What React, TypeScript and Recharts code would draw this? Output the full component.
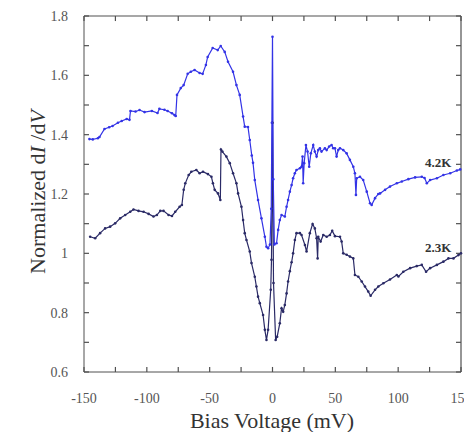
import React from 'react';
import { LineChart, Line, XAxis, YAxis, ReferenceDot } from 'recharts';

// 4.2K curve: bias (mV) and normalized conductance
const bias42 = [
  -145.7, -143, -139, -137.7, -133.7, -130, -127.3, -123, -120, -116, -113.8, -113, -109, -105.8, -101.8, -96,
  -91.5, -90, -86, -83.5, -80, -78, -77, -76, -73, -70.7, -67.5, -65, -62, -58, -55.6, -53, -51.6, -47.6,
  -43.6, -41.2, -38, -35.4, -31.4, -28.7, -26.1, -23.4, -22.1, -19.5, -18.1, -16.5, -15.5, -14.1, -11.5,
  -8.8, -6.1, -4.8, -3.5, -2, -1, -0.5, 0, 0.6, 1.5, 3.2, 4.5, 5.8, 7.2, 9.8, 11.2, 12.4, 13.8, 15.2, 16.4,
  17.8, 19.1, 21.8, 23.1, 23.9, 24.4, 25.2, 26.6, 27.9, 29.2, 30.5, 32.4, 33.7, 35.1, 36.4, 37.7, 39, 41.7,
  43.1, 45.1, 47, 48.3, 49.7, 51, 52.3, 53.7, 56.3, 59, 61.6, 64.3, 65.6, 66.4, 67, 69.6, 72.2, 75, 77.6,
  78.9, 81.6, 84.2, 85.6, 89.6, 93.5, 98.9, 102.9, 108.1, 113.5, 118.8, 121, 122.8, 125.4, 130.8, 136,
  141.4, 146.7, 149.4,
];
const g42 = [
  1.385, 1.384, 1.388, 1.392, 1.419, 1.425, 1.429, 1.44, 1.446, 1.453, 1.45, 1.48, 1.478, 1.483, 1.476, 1.48,
  1.473, 1.487, 1.484, 1.48, 1.472, 1.466, 1.463, 1.534, 1.557, 1.567, 1.605, 1.612, 1.618, 1.608, 1.605,
  1.635, 1.662, 1.692, 1.685, 1.699, 1.679, 1.646, 1.612, 1.567, 1.534, 1.461, 1.427, 1.426, 1.382, 1.33,
  1.305, 1.247, 1.18, 1.118, 1.056, 1.022, 1.017, 1.03, 1.15, 1.44, 1.73, 1.25, 1.03, 1.034, 1.079, 1.112,
  1.129, 1.124, 1.157, 1.18, 1.208, 1.23, 1.253, 1.27, 1.281, 1.287, 1.292, 1.326, 1.236, 1.304, 1.365,
  1.343, 1.292, 1.337, 1.365, 1.343, 1.326, 1.348, 1.354, 1.343, 1.354, 1.348, 1.36, 1.365, 1.354, 1.354,
  1.326, 1.348, 1.354, 1.348, 1.337, 1.315, 1.292, 1.27, 1.197, 1.253, 1.258, 1.247, 1.208, 1.169, 1.163,
  1.186, 1.2, 1.202, 1.214, 1.225, 1.236, 1.242, 1.25, 1.256, 1.258, 1.254, 1.236, 1.247, 1.253, 1.264,
  1.27, 1.279, 1.283,
];

// 2.3K curve
const bias23 = [
  -145.1, -141.1, -137.2, -133.2, -129.2, -125.2, -121.2, -117.2, -113.2, -110.6, -106.6, -102.6, -98.6,
  -94.7, -92, -89.3, -86.7, -82.7, -80, -77.4, -73.9, -72.1, -70.7, -69.4, -66.7, -64.6, -60.6, -58, -55.3,
  -51.4, -48.6, -47.4, -46, -43.4, -41.5, -41, -39.9, -36.7, -34, -31.4, -28.7, -27.4, -24.7, -23.4, -22.1,
  -20.7, -18.1, -16.7, -14.1, -12.8, -11.5, -10.1, -7.5, -6.1, -4.8, -3.5, -1.4, -0.8, 0, 0.8, 2.5, 3.7,
  5.8, 7.2, 8.5, 9.8, 11.2, 12.4, 13.8, 15.2, 16.4, 17.8, 19.1, 21.8, 23.1, 25.8, 27.1, 29.7, 31.9, 33.7,
  35.1, 35.9, 36.4, 38.3, 40.4, 43.1, 45.7, 47.5, 49.7, 53.7, 55, 56.3, 59, 61.6, 64.3, 65.6, 68.3, 71,
  73.6, 76.2, 78.1, 81.6, 84.2, 88.2, 93.5, 98.9, 100.2, 104.1, 109.5, 114.8, 118.8, 122.2, 125.4, 130.8,
  136, 140, 144, 148, 150,
];
const g23 = [
  1.056, 1.051, 1.068, 1.084, 1.09, 1.101, 1.118, 1.129, 1.14, 1.148, 1.143, 1.14, 1.133, 1.124, 1.129,
  1.143, 1.143, 1.129, 1.126, 1.14, 1.157, 1.163, 1.214, 1.236, 1.264, 1.275, 1.281, 1.27, 1.275, 1.267,
  1.258, 1.236, 1.214, 1.202, 1.18, 1.35, 1.343, 1.326, 1.304, 1.27, 1.236, 1.202, 1.157, 1.112, 1.068,
  1.045, 1.006, 0.967, 0.921, 0.888, 0.854, 0.832, 0.792, 0.742, 0.708, 0.742, 0.877, 0.978, 1.44, 0.9,
  0.708, 0.719, 0.764, 0.815, 0.803, 0.826, 0.865, 0.905, 0.94, 0.97, 1.0, 1.045, 1.068, 1.068, 1.062,
  1.028, 1.006, 1.068, 1.099, 1.084, 1.051, 0.983, 1.056, 1.04, 1.062, 1.056, 1.062, 1.076, 1.058, 1.056,
  1.04, 1.0, 0.995, 0.989, 0.983, 0.927, 0.921, 0.905, 0.888, 0.871, 0.857, 0.877, 0.888, 0.899, 0.912,
  0.927, 0.922, 0.938, 0.95, 0.957, 0.961, 0.938, 0.95, 0.961, 0.972, 0.983, 0.983, 0.994, 1.0,
];

const xTicks = [-150, -125, -100, -75, -50, -25, 0, 25, 50, 75, 100, 125, 150];
const xTickLabels = ['-150', '', '-100', '', '-50', '', '0', '', '50', '', '100', '', '150'];
const yTicks = [0.6, 0.7, 0.8, 0.9, 1, 1.1, 1.2, 1.3, 1.4, 1.5, 1.6, 1.7, 1.8];
const yTickLabels = ['0.6', '', '0.8', '', '1', '', '1.2', '', '1.4', '', '1.6', '', '1.8'];

const seriesLabels = ['4.2K', '2.3K'];
const labelPos = [
  { x: 131.8, y: 1.291 },
  { x: 131.8, y: 1.005 },
];

const X_MIN = -150;
const X_MAX = 150;
const Y_MIN = 0.6;
const Y_MAX = 1.8;
// inward tick length in data units (~5px)
const TICK_DX = 4;
const TICK_DY = 0.017;

const data42 = bias42.map((x, i) => ({ x, y: g42[i] }));
const data23 = bias23.map((x, i) => ({ x, y: g23[i] }));

// frame (top and right edges) and inward tick marks, drawn through the chart's scales
const frameTop = [
  { x: X_MIN, y: Y_MAX },
  { x: X_MAX, y: Y_MAX },
];
const frameRight = [
  { x: X_MAX, y: Y_MIN },
  { x: X_MAX, y: Y_MAX },
];
const tickSegs: { x: number; y: number }[][] = [
  ...xTicks.map((t) => [
    { x: t, y: Y_MIN },
    { x: t, y: Y_MIN + TICK_DY },
  ]),
  ...xTicks.map((t) => [
    { x: t, y: Y_MAX },
    { x: t, y: Y_MAX - TICK_DY },
  ]),
  ...yTicks.map((t) => [
    { x: X_MIN, y: t },
    { x: X_MIN + TICK_DX, y: t },
  ]),
  ...yTicks.map((t) => [
    { x: X_MAX, y: t },
    { x: X_MAX - TICK_DX, y: t },
  ]),
];

const SERIF = '"Liberation Serif", "Times New Roman", serif';
const BLUE = '#3333e6';
const NAVY = '#2a2a66';
const AXIS = '#505050';

const tickStyle = { fontFamily: SERIF, fontSize: 14, fill: '#555' };

const YTitle = () => (
  <text
    x={45}
    y={192}
    transform="rotate(-90 45 192)"
    textAnchor="middle"
    fontFamily={SERIF}
    fontSize={22}
    fill="#333"
  >
    Normalized d<tspan fontStyle="italic">I</tspan> /d<tspan fontStyle="italic">V</tspan>
  </text>
);

const XTitle = () => (
  <text x={272} y={428} textAnchor="middle" fontFamily={SERIF} fontSize={22} fill="#333">
    Bias Voltage (mV)
  </text>
);

const makeSeriesLabel = (txt: string) => (props: any) => {
  const vb = props.viewBox || {};
  const cx = (vb.x ?? 0) + (vb.width ?? 0) / 2;
  const cy = (vb.y ?? 0) + (vb.height ?? 0) / 2;
  return (
    <text x={cx} y={cy} textAnchor="middle" fontFamily={SERIF} fontSize={13} fontWeight="bold" fill="#333">
      {txt}
    </text>
  );
};

export default function App() {
  return (
    <div style={{ position: 'absolute', left: 0, top: 0 }}>
      <LineChart width={464} height={432} margin={{ top: 16, right: 3, bottom: 0, left: 0 }}>
        <XAxis
          type="number"
          dataKey="x"
          domain={[X_MIN, X_MAX]}
          ticks={xTicks}
          interval={0}
          height={60}
          tickLine={false}
          tickMargin={15}
          tickFormatter={(_v: any, i: number) => xTickLabels[i]}
          tick={tickStyle}
          stroke={AXIS}
          label={<XTitle />}
        />
        <YAxis
          type="number"
          domain={[Y_MIN, Y_MAX]}
          ticks={yTicks}
          interval={0}
          width={84}
          tickLine={false}
          tickMargin={10}
          tickFormatter={(_v: any, i: number) => yTickLabels[i]}
          tick={tickStyle}
          stroke={AXIS}
          label={<YTitle />}
        />
        <Line
          data={frameTop}
          dataKey="y"
          stroke={AXIS}
          strokeWidth={1.2}
          dot={false}
          activeDot={false}
          isAnimationActive={false}
        />
        <Line
          data={frameRight}
          dataKey="y"
          stroke={AXIS}
          strokeWidth={1.2}
          dot={false}
          activeDot={false}
          isAnimationActive={false}
        />
        {tickSegs.map((seg, i) => (
          <Line
            key={'tick' + i}
            data={seg}
            dataKey="y"
            stroke={AXIS}
            strokeWidth={1.2}
            dot={false}
            activeDot={false}
            isAnimationActive={false}
          />
        ))}
        <Line
          data={data23}
          dataKey="y"
          stroke={NAVY}
          strokeWidth={1.2}
          dot={{ r: 1.3, fill: NAVY, stroke: 'none' }}
          isAnimationActive={false}
        />
        <Line
          data={data42}
          dataKey="y"
          stroke={BLUE}
          strokeWidth={1.2}
          dot={{ r: 1.3, fill: BLUE, stroke: 'none' }}
          isAnimationActive={false}
        />
        {labelPos.map((p, i) => (
          <ReferenceDot
            key={seriesLabels[i]}
            x={p.x}
            y={p.y}
            r={0}
            fill="none"
            stroke="none"
            label={makeSeriesLabel(seriesLabels[i])}
          />
        ))}
      </LineChart>
    </div>
  );
}
